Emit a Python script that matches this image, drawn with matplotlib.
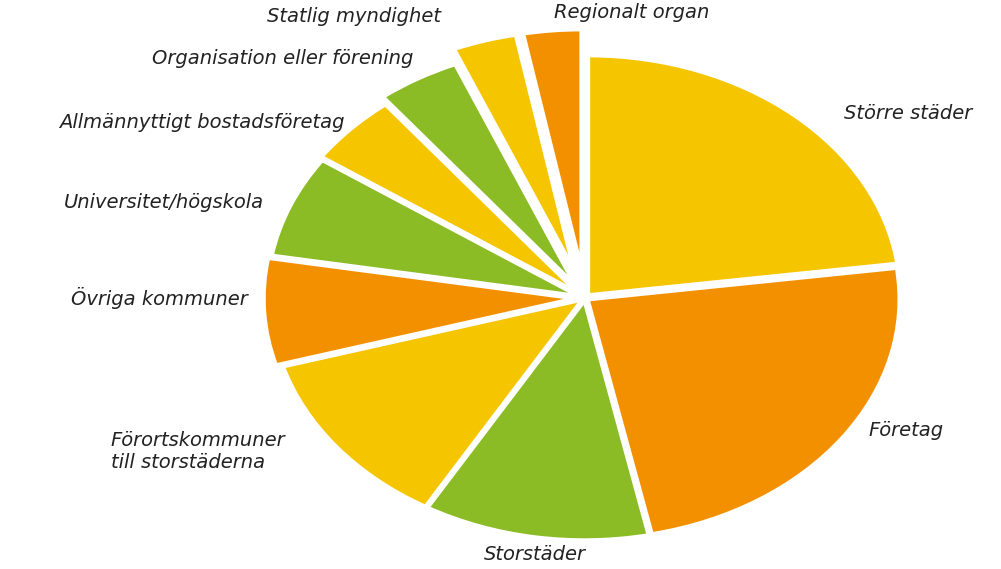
import numpy as np
import matplotlib.pyplot as plt

# andel (%) per organisationstyp, medurs från klockan 12
labels = ["Större städer", "Företag", "Storstäder",
          "Förortskommuner\ntill storstäderna", "Övriga kommuner",
          "Universitet/högskola", "Allmännyttigt bostadsföretag",
          "Organisation eller förening", "Statlig myndighet", "Regionalt organ"]
shares = [22.9, 23.8, 11.7, 12.1, 7.2, 6.9, 4.8, 4.3, 3.3, 3.0]

yellow = "#F5C500"
orange = "#F39000"
green = "#8BBB25"
colors = [yellow, orange, green, yellow, orange, green, yellow, green, yellow, orange]
explode = [0.015, 0.01, 0.01, 0.01, 0.03, 0.02, 0.03, 0.06, 0.12, 0.12]

# label placement (data units) and alignment
label_pos = [(0.83, 0.77), (0.91, -0.55), (-0.16, -1.07), (-1.52, -0.64),
             (-1.08, 0.0), (-1.03, 0.40), (-0.77, 0.73), (-0.55, 1.00),
             (-0.46, 1.175), (-0.10, 1.19)]
label_ha = ["left", "left", "center", "left", "right", "right", "right",
            "right", "right", "left"]

fig = plt.figure(figsize=(10.01, 5.69), dpi=100)
ax = fig.add_axes([0, 0, 1, 1])

ax.pie(shares, colors=colors, explode=explode, startangle=90, counterclock=False,
       wedgeprops=dict(edgecolor="white", linewidth=3))

# stretch the pie into an ellipse like the reference
cx, cy = 585, 298
rx, ry = 312, 240
ax.set_aspect("auto")
ax.set_xlim(-cx / rx, (1001 - cx) / rx)
ax.set_ylim(-(569 - cy) / ry, cy / ry)
ax.axis("off")

for lab, (x, y), ha in zip(labels, label_pos, label_ha):
    ax.text(x, y, lab, ha=ha, va="center", fontsize=14, fontstyle="italic",
            color="#222222", linespacing=1.25)

fig.savefig("out.png", dpi=100)
